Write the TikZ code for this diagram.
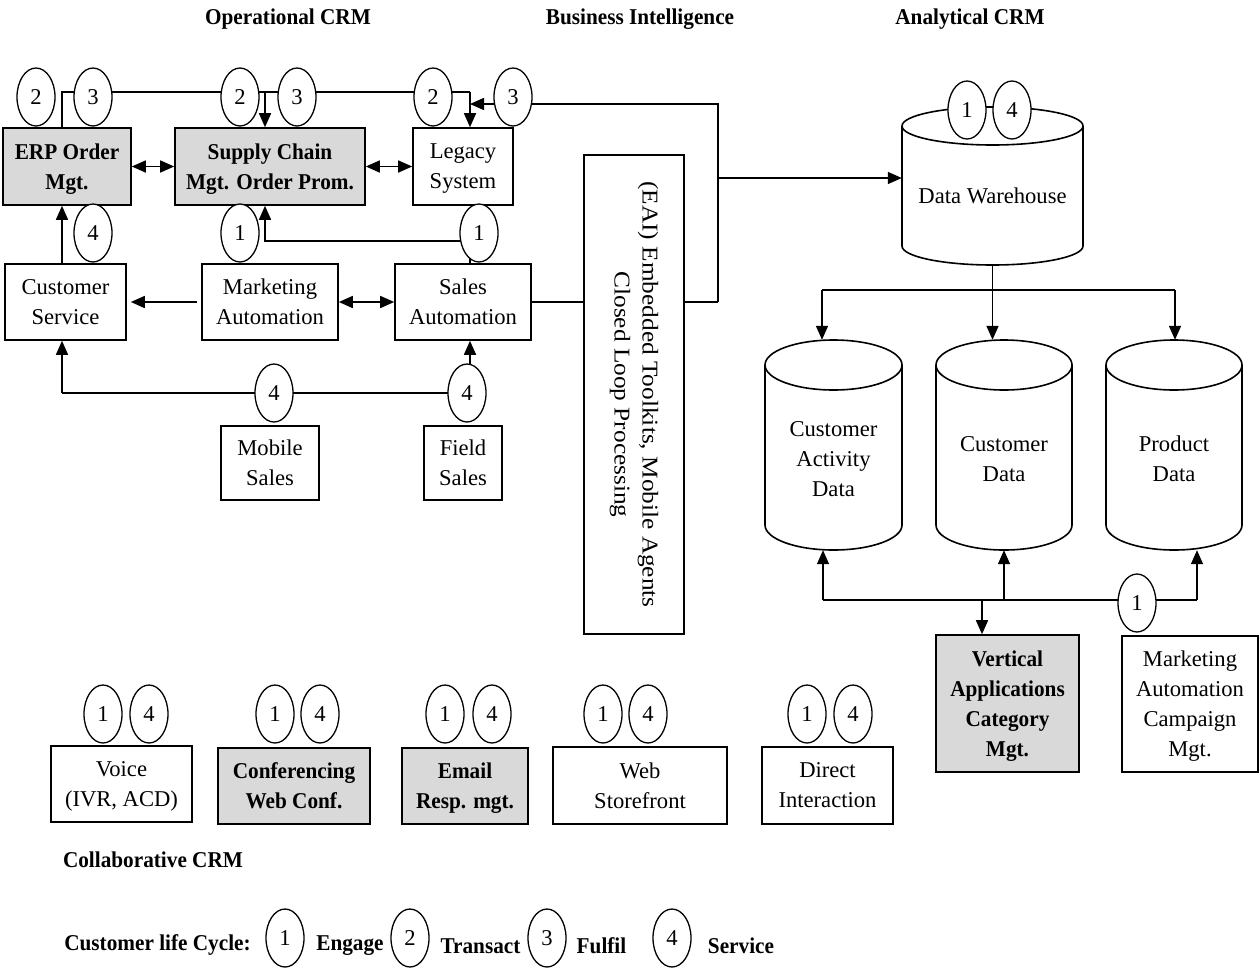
\documentclass[tikz,border=0pt]{standalone}
\usepackage{fontspec}
\setmainfont{Liberation Serif}
\newfontfamily\condserif{Liberation Serif}[FakeStretch=0.94]
\newfontfamily\wideserif{Liberation Serif}[FakeStretch=1.12]
\usetikzlibrary{shapes.geometric,arrows.meta}
\pgfdeclarelayer{background}
\pgfsetlayers{background,main}

\begin{document}
\begin{tikzpicture}[x=1pt,y=-1pt,
  every node/.style={font=\fontsize{22.6}{30}\selectfont},
  ln/.style={line width=1.6pt},
  tip/.tip={Triangle[length=14pt,width=12pt]},
  arr/.style={ln,-tip},
  darr/.style={ln,tip-tip},
  box/.style={draw,line width=1.6pt,inner sep=0pt,align=center,fill=white,text depth=0pt},
  shaded/.style={box,fill=gray!30,font=\condserif\bfseries\fontsize{22.6}{30}\selectfont},
  bub/.style={ellipse,draw,line width=1.3pt,fill=white,minimum width=38pt,minimum height=58pt,inner sep=0pt},
  head/.style={font=\condserif\bfseries\fontsize{22.6}{30}\selectfont},
  area/.style={inner sep=0pt,align=center},
]
\useasboundingbox (0,0) rectangle (1260,967);

% ---------- headings ----------
\node[head] (hop) at (288,19) {Operational CRM};
\node[head] (hbi) at (640,19) {Business Intelligence};
\node[head] (han) at (970,19) {Analytical CRM};
\node[head] (hco) at (153,860) {Collaborative CRM};

% ---------- operational CRM ----------
\node[shaded,minimum width=128pt,minimum height=77pt] (erp) at (67,166.5) {ERP Order\\Mgt.};
\node[shaded,minimum width=190pt,minimum height=77pt] (scm) at (270,166.5) {Supply Chain\\Mgt. Order Prom.};
\node[box,minimum width=100pt,minimum height=77pt] (legacy) at (463,166.5) {Legacy\\System};
\node[box,minimum width=121pt,minimum height=76pt] (cs) at (65.5,302) {Customer\\Service};
\node[box,minimum width=136pt,minimum height=76pt] (ma) at (270,302) {Marketing\\Automation};
\node[box,minimum width=136pt,minimum height=76pt] (sa) at (463,302) {Sales\\Automation};
\node[box,minimum width=98pt,minimum height=74pt] (mob) at (270,463) {Mobile\\Sales};
\node[box,minimum width=78pt,minimum height=74pt] (fld) at (463,463) {Field\\Sales};

% life-cycle markers
\node[bub] (o2a) at (36,97) {2};
\node[bub] (o3a) at (93,97) {3};
\node[bub] (o2b) at (240,97) {2};
\node[bub] (o3b) at (297,97) {3};
\node[bub] (o2c) at (433,97) {2};
\node[bub] (o3c) at (513,97) {3};
\node[bub] (o4a) at (93,233) {4};
\node[bub] (o1a) at (240,233) {1};
\node[bub] (o1b) at (479,233) {1};
\node[bub] (o4b) at (274,393) {4};
\node[bub] (o4c) at (467,393) {4};

% ---------- business intelligence ----------
\node[box,minimum width=100pt,minimum height=479pt] (eai) at (634,394.5) {};
\node[area,rotate=-90,font=\wideserif\fontsize{22.6}{28}\selectfont] (eaitext) at (eai.center)
  {(EAI) Embedded Toolkits, Mobile Agents\\Closed Loop Processing};

% ---------- analytical CRM ----------
% data warehouse drum
\draw[ln,fill=white] (902,126) -- (902,246)
  arc[start angle=180,end angle=0,x radius=90.5,y radius=19] -- (1083,126);
\draw[ln] (992.5,126) ellipse [x radius=90.5,y radius=19];
\node[area,minimum width=181pt,minimum height=158pt] (dw) at (992.5,186) {};
\node[area] (dwtext) at (992.5,196) {Data Warehouse};
\node[bub] (a1) at (967,110) {1};
\node[bub] (a4) at (1012,110) {4};

% data mart drums
\foreach \cx/\rx in {833.5/68.5,1004/68,1174/68}{
  \draw[ln,fill=white] (\cx-\rx,365) -- (\cx-\rx,525)
    arc[start angle=180,end angle=0,x radius=\rx,y radius=25] -- (\cx+\rx,365);
  \draw[ln] (\cx,365) ellipse [x radius=\rx,y radius=25];
}
\node[area,minimum width=137pt,minimum height=210pt] (ca) at (833.5,445) {};
\node[area,minimum width=136pt,minimum height=210pt] (cd) at (1004,445) {};
\node[area,minimum width=136pt,minimum height=210pt] (pd) at (1174,445) {};
\node[area] (catext) at (833.5,459) {Customer\\Activity\\Data};
\node[area] (cdtext) at (1004,459) {Customer\\Data};
\node[area] (pdtext) at (1174,459) {Product\\Data};

\node[shaded,minimum width=143pt,minimum height=137pt] (vert) at (1007.5,703.5)
  {Vertical\\Applications\\Category\\Mgt.};
\node[box,minimum width=136pt,minimum height=136pt] (mac) at (1190,704)
  {Marketing\\Automation\\Campaign\\Mgt.};
\node[bub] (a1b) at (1137,603) {1};

% ---------- collaborative CRM ----------
\node[box,minimum width=141pt,minimum height=76pt] (voice) at (121.5,784) {Voice\\(IVR, ACD)};
\node[shaded,minimum width=152pt,minimum height=76pt] (conf) at (294,786) {Conferencing\\Web Conf.};
\node[shaded,minimum width=126pt,minimum height=76pt] (email) at (465,786) {Email\\Resp. mgt.};
\node[box,minimum width=174pt,minimum height=77pt] (web) at (640,785.5) {Web\\Storefront};
\node[box,minimum width=131pt,minimum height=77pt] (direct) at (827.5,785.5) {Direct\\Interaction};
\foreach \nm/\xa/\xb in {voice/103/149,conf/275/320,email/445/492,web/603/648,direct/807/853}{
  \node[bub] (\nm-e) at (\xa,714) {1};
  \node[bub] (\nm-s) at (\xb,714) {4};
}

% ---------- legend ----------
\node[head] (lgt) at (157.5,945) {Customer life Cycle:};
\node[bub] (lg1) at (285,938) {1};
\node[head] (lge) at (350,946) {Engage};
\node[bub] (lg2) at (410,938) {2};
\node[head] (lgtr) at (480.5,946) {Transact};
\node[bub] (lg3) at (547,938) {3};
\node[head] (lgf) at (601.5,946) {Fulfil};
\node[bub] (lg4) at (672,938) {4};
\node[head] (lgs) at (741,946) {Service};

% ---------- connectors ----------
\coordinate (xa) at (62,92);
\coordinate (xb) at (265,92);
\coordinate (xc) at (470,92);
\coordinate (ra) at (718,104);
\coordinate (rb) at (718,178);
\coordinate (rc) at (718,302);
\coordinate (ya) at (470,241);
\coordinate (yb) at (265,241);
\coordinate (za) at (62,393);
\coordinate (zb) at (470,393);
\coordinate (h1) at (822,290);
\coordinate (h2) at (1175,290);
\coordinate (g1) at (823,600);
\coordinate (g2) at (1004,600);
\coordinate (g3) at (1197,600);
\coordinate (g4) at (982,600);

\begin{pgfonlayer}{background}
  % transact / fulfil chain along the top
  \draw[ln] (erp.north -| xa) -- (xa) -- (xc);
  \draw[arr] (xb) -- (xb |- scm.north);
  \draw[arr] (xc) -- (xc |- legacy.north);
  \draw[darr] (erp.east) -- (scm.west);
  \draw[darr] (scm.east) -- (legacy.west);
  % EAI loop back to legacy and on to the warehouse
  \draw[ln] (sa.east) -- (sa.east -| eai.west);
  \draw[ln] (eai.east |- rc) -- (rc);
  \draw[arr] (rc) -- (ra) -- (ra -| xc);
  \draw[arr] (rb) -- (rb -| dw.west);
  % engage / service links
  \draw[arr] (cs.north -| xa) -- (erp.south -| xa);
  \draw[arr] (sa.north -| ya) -- (ya) -- (yb) -- (yb |- scm.south);
  \draw[arr,shorten <=4pt,shorten >=4pt] (ma.west) -- (cs.east);
  \draw[darr] (ma.east) -- (sa.west);
  \draw[ln] (za) -- (zb);
  \draw[arr] (za) -- (za |- cs.south);
  \draw[arr] (zb) -- (zb |- sa.south);
  % warehouse to data marts
  \draw[ln] (dw.south) -- (dw.south |- h1);
  \draw[ln] (h1) -- (h2);
  \draw[arr] (h1) -- (h1 |- ca.north);
  \draw[arr] (dw.south |- h1) -- (dw.south |- cd.north);
  \draw[arr] (h2) -- (h2 |- pd.north);
  % data marts and vertical applications
  \draw[ln] (g1) -- (g3);
  \draw[arr] (g1) -- (g1 |- ca.south);
  \draw[arr] (g2) -- (g2 |- cd.south);
  \draw[arr] (g3) -- (g3 |- pd.south);
  \draw[arr] (g4) -- (g4 |- vert.north);
\end{pgfonlayer}
\end{tikzpicture}
\end{document}
